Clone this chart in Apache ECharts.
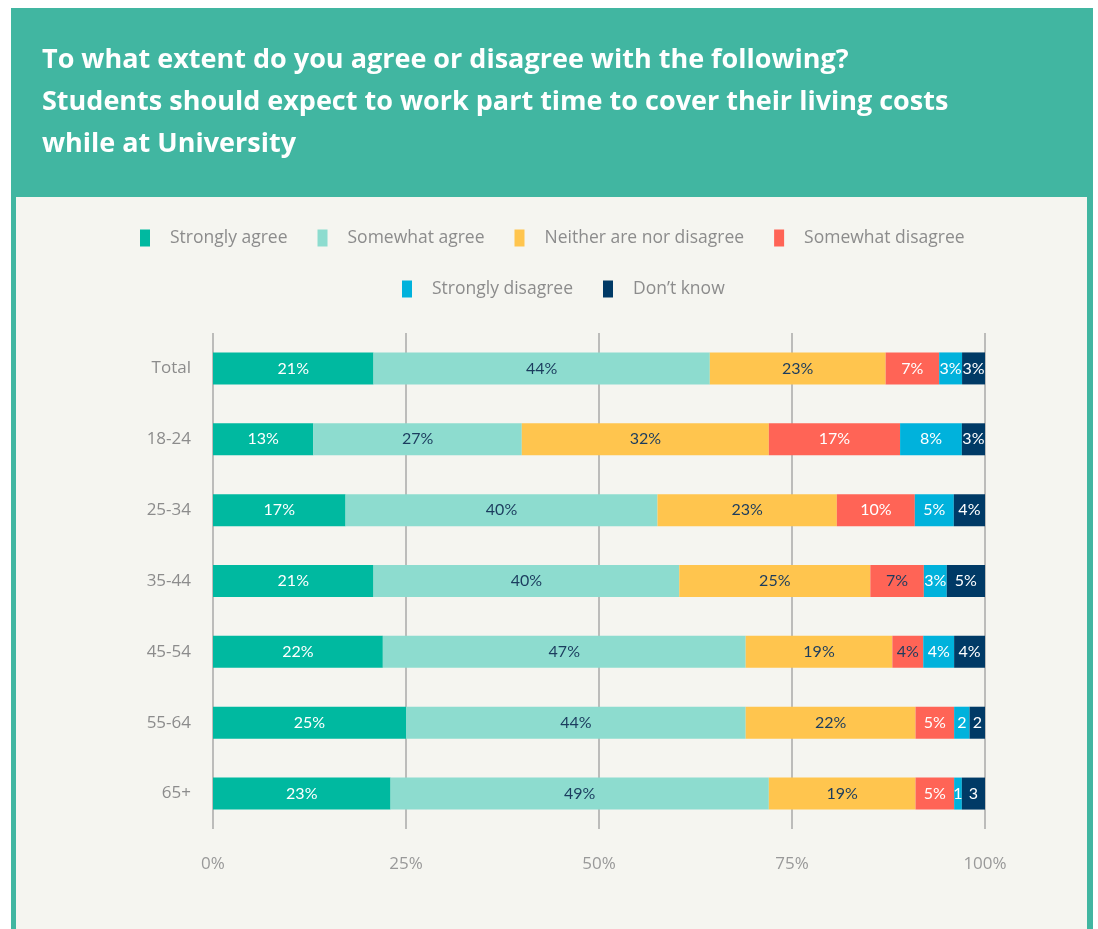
<!DOCTYPE html>
<html>
<head>
<meta charset="utf-8">
<script src="https://cdn.jsdelivr.net/npm/echarts@6/dist/echarts.min.js"></script>
<style>
html,body{margin:0;padding:0;background:#fff;}
#chart{width:1098px;height:929px;}
</style>
</head>
<body>
<div id="chart"></div>
<script>
const categories = ['Total', '18-24', '25-34', '35-44', '45-54', '55-64', '65+'];
const seriesNames = ['Strongly agree', 'Somewhat agree', 'Neither are nor disagree', 'Somewhat disagree', 'Strongly disagree', 'Don\u2019t know'];
const stronglyAgree    = [21, 13, 17, 21, 22, 25, 23];
const somewhatAgree    = [44, 27, 40, 40, 47, 44, 49];
const neither          = [23, 32, 23, 25, 19, 22, 19];
const somewhatDisagree = [7, 17, 10, 7, 4, 5, 5];
const stronglyDisagree = [3, 8, 5, 3, 4, 2, 1];
const dontKnow         = [3, 3, 4, 5, 4, 2, 3];
const xTicks = ['0%', '25%', '50%', '75%', '100%'];
// labels shown without "%" : [seriesIndex, rowIndex]
const plainLabels = [[4, 5], [5, 5], [4, 6], [5, 6]];
// labels drawn in dark text on the red segments: [seriesIndex, rowIndex]
const darkLabels = [[3, 3], [3, 4]];

const allValues = [stronglyAgree, somewhatAgree, neither, somewhatDisagree, stronglyDisagree, dontKnow];
const colors = ['#00b9a0', '#8ddccf', '#ffc54e', '#ff6456', '#00b2dc', '#003a66'];
const labelColors = ['#ffffff', '#1b3c5e', '#1b3c5e', '#ffffff', '#ffffff', '#ffffff'];
const navy = '#1b3c5e';

const rowSums = categories.map((c, i) => allValues.reduce((s, arr) => s + arr[i], 0));
const has = (list, s, r) => list.some(p => p[0] === s && p[1] === r);

const FONT = 'Open Sans';

const series = allValues.map((vals, s) => ({
  name: seriesNames[s],
  type: 'bar',
  stack: 'total',
  barWidth: 32,
  itemStyle: { color: colors[s] },
  label: {
    show: true,
    position: 'inside',
    fontFamily: 'Lato',
    fontSize: 16,
    color: labelColors[s]
  },
  data: vals.map((v, r) => ({
    value: v / rowSums[r] * 100,
    label: {
      formatter: has(plainLabels, s, r) ? String(v) : v + '%',
      color: has(darkLabels, s, r) ? navy : labelColors[s]
    }
  }))
}));

const legendCommon = {
  icon: 'rect',
  itemWidth: 10,
  itemHeight: 17,
  itemGap: 30,
  textStyle: { fontFamily: FONT, fontSize: 17.5, color: '#8c8c8c', padding: [0, 0, 0, 15] }
};

const chart = echarts.init(document.getElementById('chart'), null, { renderer: 'canvas' });
chart.setOption({
  animation: false,
  backgroundColor: '#ffffff',
  graphic: [
    { type: 'rect', z: -10, shape: { x: 11, y: 8, width: 1082, height: 921 }, style: { fill: '#41b6a1' } },
    { type: 'rect', z: -9, shape: { x: 16, y: 197, width: 1071, height: 732 }, style: { fill: '#f5f5f0' } }
  ],
  title: {
    text: 'To what extent do you agree or disagree with the following?\nStudents should expect to work part time to cover their living costs\nwhile at University',
    left: 37,
    top: 34,
    textStyle: { fontFamily: FONT, fontSize: 27, fontWeight: 'bold', color: '#ffffff', lineHeight: 42 }
  },
  legend: [
    Object.assign({}, legendCommon, { left: 135, top: 224, data: seriesNames.slice(0, 4) }),
    Object.assign({}, legendCommon, { left: 397, top: 275, data: seriesNames.slice(4) })
  ],
  grid: { left: 213, right: 113, top: 333, bottom: 100, containLabel: false },
  xAxis: {
    type: 'value',
    min: 0,
    max: 100,
    interval: 25,
    axisLine: { show: false },
    axisTick: { show: false },
    splitLine: { show: true, lineStyle: { color: '#a8a8a8', width: 1.5 } },
    axisLabel: {
      margin: 27,
      fontFamily: FONT,
      fontSize: 17,
      color: '#999999',
      formatter: (v) => xTicks[Math.round(v / 25)]
    }
  },
  yAxis: {
    type: 'category',
    data: categories,
    inverse: true,
    axisLine: { show: false },
    axisTick: { show: false },
    splitLine: { show: false },
    axisLabel: { margin: 22, fontFamily: FONT, fontSize: 17, color: '#8c8c8c' }
  },
  series: series
});
</script>
</body>
</html>
